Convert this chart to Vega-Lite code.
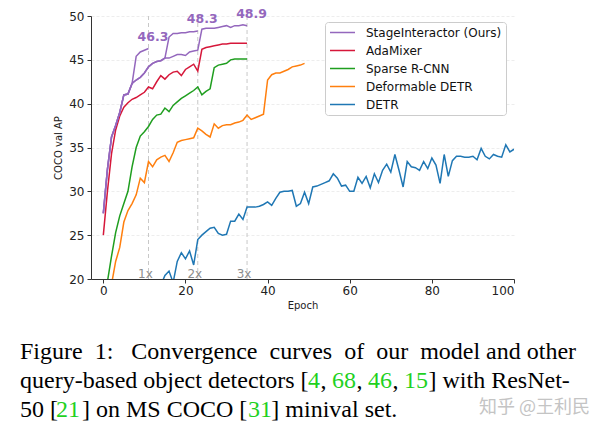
{
  "$schema": "https://vega.github.io/schema/vega-lite/v6.json",
  "background": "white",
  "padding": {"left": 20, "top": 8, "right": 2, "bottom": 2},
  "config": {
    "view": {"stroke": null},
    "font": "DejaVu Sans",
    "axis": {
      "labelFont": "DejaVu Sans", "labelFontSize": 12, "labelColor": "#222222",
      "titleFont": "DejaVu Sans", "titleFontSize": 10, "titleFontWeight": "normal", "titleColor": "#222222",
      "domainColor": "#333333", "tickColor": "#333333", "tickSize": 4, "domainWidth": 1, "tickWidth": 1
    }
  },
  "title": {
    "text": "知乎 @王利民",
    "orient": "bottom", "anchor": "end", "frame": "group",
    "font": "Noto Sans CJK SC", "fontSize": 18, "fontWeight": "normal", "color": "#c4c4c4",
    "offset": -23, "dx": 76
  },
  "datasets": {
    "curves": [
      {"m":"DETR","r":"detr","e":14,"v":19.3},{"m":"DETR","r":"detr","e":15,"v":20.4},{"m":"DETR","r":"detr","e":16,"v":20.9},{"m":"DETR","r":"detr","e":17,"v":19.6},{"m":"DETR","r":"detr","e":18,"v":22.0},{"m":"DETR","r":"detr","e":19,"v":23.0},{"m":"DETR","r":"detr","e":20,"v":22.3},{"m":"DETR","r":"detr","e":21,"v":23.2},{"m":"DETR","r":"detr","e":22,"v":21.6},{"m":"DETR","r":"detr","e":23,"v":24.5},{"m":"DETR","r":"detr","e":24,"v":25.0},{"m":"DETR","r":"detr","e":25,"v":25.4},{"m":"DETR","r":"detr","e":26,"v":25.8},{"m":"DETR","r":"detr","e":27,"v":25.9},{"m":"DETR","r":"detr","e":28,"v":25.2},{"m":"DETR","r":"detr","e":29,"v":25.0},{"m":"DETR","r":"detr","e":30,"v":25.1},{"m":"DETR","r":"detr","e":31,"v":26.6},{"m":"DETR","r":"detr","e":32,"v":26.6},{"m":"DETR","r":"detr","e":33,"v":27.4},{"m":"DETR","r":"detr","e":34,"v":26.8},{"m":"DETR","r":"detr","e":35,"v":28.2},{"m":"DETR","r":"detr","e":36,"v":28.2},{"m":"DETR","r":"detr","e":37,"v":28.2},{"m":"DETR","r":"detr","e":38,"v":28.3},{"m":"DETR","r":"detr","e":39,"v":28.5},{"m":"DETR","r":"detr","e":40,"v":28.8},{"m":"DETR","r":"detr","e":41,"v":28.4},{"m":"DETR","r":"detr","e":42,"v":29.2},{"m":"DETR","r":"detr","e":43,"v":29.9},{"m":"DETR","r":"detr","e":44,"v":30.0},{"m":"DETR","r":"detr","e":45,"v":30.0},{"m":"DETR","r":"detr","e":46,"v":30.1},{"m":"DETR","r":"detr","e":47,"v":28.3},{"m":"DETR","r":"detr","e":48,"v":28.6},{"m":"DETR","r":"detr","e":49,"v":29.9},{"m":"DETR","r":"detr","e":50,"v":28.6},{"m":"DETR","r":"detr","e":51,"v":30.5},{"m":"DETR","r":"detr","e":52,"v":30.6},{"m":"DETR","r":"detr","e":53,"v":30.8},{"m":"DETR","r":"detr","e":54,"v":31.0},{"m":"DETR","r":"detr","e":55,"v":31.2},{"m":"DETR","r":"detr","e":56,"v":32.0},{"m":"DETR","r":"detr","e":57,"v":31.5},{"m":"DETR","r":"detr","e":58,"v":30.6},{"m":"DETR","r":"detr","e":59,"v":30.7},{"m":"DETR","r":"detr","e":60,"v":30.0},{"m":"DETR","r":"detr","e":61,"v":30.0},{"m":"DETR","r":"detr","e":62,"v":31.6},{"m":"DETR","r":"detr","e":63,"v":30.9},{"m":"DETR","r":"detr","e":64,"v":31.7},{"m":"DETR","r":"detr","e":65,"v":30.4},{"m":"DETR","r":"detr","e":66,"v":32.0},{"m":"DETR","r":"detr","e":67,"v":31.0},{"m":"DETR","r":"detr","e":68,"v":32.4},{"m":"DETR","r":"detr","e":69,"v":33.1},{"m":"DETR","r":"detr","e":70,"v":32.2},{"m":"DETR","r":"detr","e":71,"v":34.2},{"m":"DETR","r":"detr","e":72,"v":32.4},{"m":"DETR","r":"detr","e":73,"v":30.5},{"m":"DETR","r":"detr","e":74,"v":33.4},{"m":"DETR","r":"detr","e":75,"v":32.8},{"m":"DETR","r":"detr","e":76,"v":32.7},{"m":"DETR","r":"detr","e":77,"v":32.4},{"m":"DETR","r":"detr","e":78,"v":33.4},{"m":"DETR","r":"detr","e":79,"v":32.6},{"m":"DETR","r":"detr","e":80,"v":33.8},{"m":"DETR","r":"detr","e":81,"v":33.0},{"m":"DETR","r":"detr","e":82,"v":30.9},{"m":"DETR","r":"detr","e":83,"v":34.2},{"m":"DETR","r":"detr","e":84,"v":31.7},{"m":"DETR","r":"detr","e":85,"v":33.5},{"m":"DETR","r":"detr","e":86,"v":34.0},{"m":"DETR","r":"detr","e":87,"v":34.0},{"m":"DETR","r":"detr","e":88,"v":33.9},{"m":"DETR","r":"detr","e":89,"v":33.9},{"m":"DETR","r":"detr","e":90,"v":34.0},{"m":"DETR","r":"detr","e":91,"v":33.6},{"m":"DETR","r":"detr","e":92,"v":34.9},{"m":"DETR","r":"detr","e":93,"v":34.0},{"m":"DETR","r":"detr","e":94,"v":33.7},{"m":"DETR","r":"detr","e":95,"v":34.2},{"m":"DETR","r":"detr","e":96,"v":34.0},{"m":"DETR","r":"detr","e":97,"v":33.9},{"m":"DETR","r":"detr","e":98,"v":35.3},{"m":"DETR","r":"detr","e":99,"v":34.5},{"m":"DETR","r":"detr","e":100,"v":34.8},
      {"m":"Deformable DETR","r":"ddetr","e":0,"v":12.0},{"m":"Deformable DETR","r":"ddetr","e":1,"v":16.0},{"m":"Deformable DETR","r":"ddetr","e":2,"v":19.4},{"m":"Deformable DETR","r":"ddetr","e":3,"v":22.0},{"m":"Deformable DETR","r":"ddetr","e":4,"v":23.6},{"m":"Deformable DETR","r":"ddetr","e":5,"v":26.5},{"m":"Deformable DETR","r":"ddetr","e":6,"v":27.8},{"m":"Deformable DETR","r":"ddetr","e":7,"v":28.6},{"m":"Deformable DETR","r":"ddetr","e":8,"v":29.6},{"m":"Deformable DETR","r":"ddetr","e":9,"v":31.5},{"m":"Deformable DETR","r":"ddetr","e":10,"v":31.0},{"m":"Deformable DETR","r":"ddetr","e":11,"v":33.4},{"m":"Deformable DETR","r":"ddetr","e":12,"v":32.8},{"m":"Deformable DETR","r":"ddetr","e":13,"v":33.6},{"m":"Deformable DETR","r":"ddetr","e":14,"v":33.9},{"m":"Deformable DETR","r":"ddetr","e":15,"v":34.1},{"m":"Deformable DETR","r":"ddetr","e":16,"v":33.4},{"m":"Deformable DETR","r":"ddetr","e":17,"v":34.4},{"m":"Deformable DETR","r":"ddetr","e":18,"v":35.6},{"m":"Deformable DETR","r":"ddetr","e":19,"v":35.8},{"m":"Deformable DETR","r":"ddetr","e":20,"v":35.9},{"m":"Deformable DETR","r":"ddetr","e":21,"v":36.0},{"m":"Deformable DETR","r":"ddetr","e":22,"v":36.1},{"m":"Deformable DETR","r":"ddetr","e":23,"v":37.2},{"m":"Deformable DETR","r":"ddetr","e":24,"v":36.9},{"m":"Deformable DETR","r":"ddetr","e":25,"v":36.5},{"m":"Deformable DETR","r":"ddetr","e":26,"v":36.2},{"m":"Deformable DETR","r":"ddetr","e":27,"v":37.7},{"m":"Deformable DETR","r":"ddetr","e":28,"v":37.2},{"m":"Deformable DETR","r":"ddetr","e":29,"v":37.5},{"m":"Deformable DETR","r":"ddetr","e":30,"v":37.6},{"m":"Deformable DETR","r":"ddetr","e":31,"v":37.6},{"m":"Deformable DETR","r":"ddetr","e":32,"v":37.8},{"m":"Deformable DETR","r":"ddetr","e":33,"v":37.9},{"m":"Deformable DETR","r":"ddetr","e":34,"v":38.1},{"m":"Deformable DETR","r":"ddetr","e":35,"v":38.7},{"m":"Deformable DETR","r":"ddetr","e":36,"v":38.2},{"m":"Deformable DETR","r":"ddetr","e":37,"v":38.4},{"m":"Deformable DETR","r":"ddetr","e":38,"v":38.6},{"m":"Deformable DETR","r":"ddetr","e":39,"v":38.8},{"m":"Deformable DETR","r":"ddetr","e":40,"v":42.7},{"m":"Deformable DETR","r":"ddetr","e":41,"v":43.3},{"m":"Deformable DETR","r":"ddetr","e":42,"v":43.5},{"m":"Deformable DETR","r":"ddetr","e":43,"v":43.5},{"m":"Deformable DETR","r":"ddetr","e":44,"v":43.7},{"m":"Deformable DETR","r":"ddetr","e":45,"v":43.9},{"m":"Deformable DETR","r":"ddetr","e":46,"v":44.2},{"m":"Deformable DETR","r":"ddetr","e":47,"v":44.3},{"m":"Deformable DETR","r":"ddetr","e":48,"v":44.4},{"m":"Deformable DETR","r":"ddetr","e":49,"v":44.6},
      {"m":"Sparse R-CNN","r":"srcnn","e":0,"v":14.0},{"m":"Sparse R-CNN","r":"srcnn","e":1,"v":19.7},{"m":"Sparse R-CNN","r":"srcnn","e":2,"v":22.6},{"m":"Sparse R-CNN","r":"srcnn","e":3,"v":25.3},{"m":"Sparse R-CNN","r":"srcnn","e":4,"v":27.2},{"m":"Sparse R-CNN","r":"srcnn","e":5,"v":28.6},{"m":"Sparse R-CNN","r":"srcnn","e":6,"v":30.0},{"m":"Sparse R-CNN","r":"srcnn","e":7,"v":32.8},{"m":"Sparse R-CNN","r":"srcnn","e":8,"v":35.0},{"m":"Sparse R-CNN","r":"srcnn","e":9,"v":36.3},{"m":"Sparse R-CNN","r":"srcnn","e":10,"v":36.8},{"m":"Sparse R-CNN","r":"srcnn","e":11,"v":37.4},{"m":"Sparse R-CNN","r":"srcnn","e":12,"v":38.2},{"m":"Sparse R-CNN","r":"srcnn","e":13,"v":38.7},{"m":"Sparse R-CNN","r":"srcnn","e":14,"v":38.8},{"m":"Sparse R-CNN","r":"srcnn","e":15,"v":39.5},{"m":"Sparse R-CNN","r":"srcnn","e":16,"v":39.1},{"m":"Sparse R-CNN","r":"srcnn","e":17,"v":39.8},{"m":"Sparse R-CNN","r":"srcnn","e":18,"v":40.2},{"m":"Sparse R-CNN","r":"srcnn","e":19,"v":40.6},{"m":"Sparse R-CNN","r":"srcnn","e":20,"v":40.9},{"m":"Sparse R-CNN","r":"srcnn","e":21,"v":41.2},{"m":"Sparse R-CNN","r":"srcnn","e":22,"v":41.5},{"m":"Sparse R-CNN","r":"srcnn","e":23,"v":41.9},{"m":"Sparse R-CNN","r":"srcnn","e":24,"v":41.0},{"m":"Sparse R-CNN","r":"srcnn","e":25,"v":41.4},{"m":"Sparse R-CNN","r":"srcnn","e":26,"v":41.7},{"m":"Sparse R-CNN","r":"srcnn","e":27,"v":44.1},{"m":"Sparse R-CNN","r":"srcnn","e":28,"v":44.4},{"m":"Sparse R-CNN","r":"srcnn","e":29,"v":44.5},{"m":"Sparse R-CNN","r":"srcnn","e":30,"v":44.6},{"m":"Sparse R-CNN","r":"srcnn","e":31,"v":45.0},{"m":"Sparse R-CNN","r":"srcnn","e":32,"v":45.1},{"m":"Sparse R-CNN","r":"srcnn","e":33,"v":45.1},{"m":"Sparse R-CNN","r":"srcnn","e":34,"v":45.1},{"m":"Sparse R-CNN","r":"srcnn","e":35,"v":45.1},
      {"m":"AdaMixer","r":"ada","e":0,"v":25.0},{"m":"AdaMixer","r":"ada","e":1,"v":30.0},{"m":"AdaMixer","r":"ada","e":2,"v":34.3},{"m":"AdaMixer","r":"ada","e":3,"v":37.0},{"m":"AdaMixer","r":"ada","e":4,"v":38.6},{"m":"AdaMixer","r":"ada","e":5,"v":39.6},{"m":"AdaMixer","r":"ada","e":6,"v":40.1},{"m":"AdaMixer","r":"ada","e":7,"v":40.5},{"m":"AdaMixer","r":"ada","e":8,"v":40.7},{"m":"AdaMixer","r":"ada","e":9,"v":41.0},{"m":"AdaMixer","r":"ada","e":10,"v":41.3},{"m":"AdaMixer","r":"ada","e":11,"v":41.9},{"m":"AdaMixer","r":"ada","e":12,"v":41.7},{"m":"AdaMixer","r":"ada","e":13,"v":42.5},{"m":"AdaMixer","r":"ada","e":14,"v":43.2},{"m":"AdaMixer","r":"ada","e":15,"v":42.8},{"m":"AdaMixer","r":"ada","e":16,"v":43.3},{"m":"AdaMixer","r":"ada","e":17,"v":43.6},{"m":"AdaMixer","r":"ada","e":18,"v":43.7},{"m":"AdaMixer","r":"ada","e":19,"v":43.2},{"m":"AdaMixer","r":"ada","e":20,"v":43.9},{"m":"AdaMixer","r":"ada","e":21,"v":44.2},{"m":"AdaMixer","r":"ada","e":22,"v":44.5},{"m":"AdaMixer","r":"ada","e":23,"v":43.7},{"m":"AdaMixer","r":"ada","e":24,"v":46.2},{"m":"AdaMixer","r":"ada","e":25,"v":46.4},{"m":"AdaMixer","r":"ada","e":26,"v":46.5},{"m":"AdaMixer","r":"ada","e":27,"v":46.6},{"m":"AdaMixer","r":"ada","e":28,"v":46.7},{"m":"AdaMixer","r":"ada","e":29,"v":46.8},{"m":"AdaMixer","r":"ada","e":30,"v":46.8},{"m":"AdaMixer","r":"ada","e":31,"v":46.9},{"m":"AdaMixer","r":"ada","e":32,"v":46.9},{"m":"AdaMixer","r":"ada","e":33,"v":46.9},{"m":"AdaMixer","r":"ada","e":34,"v":46.9},{"m":"AdaMixer","r":"ada","e":35,"v":46.9},
      {"m":"StageInteractor (Ours)","r":"si3","e":0,"v":27.5},{"m":"StageInteractor (Ours)","r":"si3","e":1,"v":32.5},{"m":"StageInteractor (Ours)","r":"si3","e":2,"v":36.2},{"m":"StageInteractor (Ours)","r":"si3","e":3,"v":37.5},{"m":"StageInteractor (Ours)","r":"si3","e":4,"v":39.0},{"m":"StageInteractor (Ours)","r":"si3","e":5,"v":41.0},{"m":"StageInteractor (Ours)","r":"si3","e":6,"v":41.1},{"m":"StageInteractor (Ours)","r":"si3","e":7,"v":42.3},{"m":"StageInteractor (Ours)","r":"si3","e":8,"v":42.7},{"m":"StageInteractor (Ours)","r":"si3","e":9,"v":43.0},{"m":"StageInteractor (Ours)","r":"si3","e":10,"v":43.5},{"m":"StageInteractor (Ours)","r":"si3","e":11,"v":44.2},{"m":"StageInteractor (Ours)","r":"si3","e":12,"v":44.6},{"m":"StageInteractor (Ours)","r":"si3","e":13,"v":44.8},{"m":"StageInteractor (Ours)","r":"si3","e":14,"v":44.9},{"m":"StageInteractor (Ours)","r":"si3","e":15,"v":45.2},{"m":"StageInteractor (Ours)","r":"si3","e":16,"v":45.2},{"m":"StageInteractor (Ours)","r":"si3","e":17,"v":45.4},{"m":"StageInteractor (Ours)","r":"si3","e":18,"v":45.6},{"m":"StageInteractor (Ours)","r":"si3","e":19,"v":45.6},{"m":"StageInteractor (Ours)","r":"si3","e":20,"v":45.5},{"m":"StageInteractor (Ours)","r":"si3","e":21,"v":45.9},{"m":"StageInteractor (Ours)","r":"si3","e":22,"v":46.0},{"m":"StageInteractor (Ours)","r":"si3","e":23,"v":46.1},{"m":"StageInteractor (Ours)","r":"si3","e":24,"v":48.5},{"m":"StageInteractor (Ours)","r":"si3","e":25,"v":48.6},{"m":"StageInteractor (Ours)","r":"si3","e":26,"v":48.6},{"m":"StageInteractor (Ours)","r":"si3","e":27,"v":48.6},{"m":"StageInteractor (Ours)","r":"si3","e":28,"v":48.7},{"m":"StageInteractor (Ours)","r":"si3","e":29,"v":48.8},{"m":"StageInteractor (Ours)","r":"si3","e":30,"v":48.9},{"m":"StageInteractor (Ours)","r":"si3","e":31,"v":48.7},{"m":"StageInteractor (Ours)","r":"si3","e":32,"v":48.9},{"m":"StageInteractor (Ours)","r":"si3","e":33,"v":48.9},{"m":"StageInteractor (Ours)","r":"si3","e":34,"v":49.0},{"m":"StageInteractor (Ours)","r":"si3","e":35,"v":48.9},
      {"m":"StageInteractor (Ours)","r":"si2","e":0,"v":27.5},{"m":"StageInteractor (Ours)","r":"si2","e":1,"v":32.5},{"m":"StageInteractor (Ours)","r":"si2","e":2,"v":36.2},{"m":"StageInteractor (Ours)","r":"si2","e":3,"v":37.5},{"m":"StageInteractor (Ours)","r":"si2","e":4,"v":39.0},{"m":"StageInteractor (Ours)","r":"si2","e":5,"v":41.0},{"m":"StageInteractor (Ours)","r":"si2","e":6,"v":41.1},{"m":"StageInteractor (Ours)","r":"si2","e":7,"v":42.3},{"m":"StageInteractor (Ours)","r":"si2","e":8,"v":42.7},{"m":"StageInteractor (Ours)","r":"si2","e":9,"v":43.0},{"m":"StageInteractor (Ours)","r":"si2","e":10,"v":43.5},{"m":"StageInteractor (Ours)","r":"si2","e":11,"v":44.2},{"m":"StageInteractor (Ours)","r":"si2","e":12,"v":44.6},{"m":"StageInteractor (Ours)","r":"si2","e":13,"v":44.8},{"m":"StageInteractor (Ours)","r":"si2","e":14,"v":44.9},{"m":"StageInteractor (Ours)","r":"si2","e":15,"v":45.2},{"m":"StageInteractor (Ours)","r":"si2","e":16,"v":47.6},{"m":"StageInteractor (Ours)","r":"si2","e":17,"v":48.0},{"m":"StageInteractor (Ours)","r":"si2","e":18,"v":48.0},{"m":"StageInteractor (Ours)","r":"si2","e":19,"v":48.1},{"m":"StageInteractor (Ours)","r":"si2","e":20,"v":48.1},{"m":"StageInteractor (Ours)","r":"si2","e":21,"v":48.2},{"m":"StageInteractor (Ours)","r":"si2","e":22,"v":48.2},{"m":"StageInteractor (Ours)","r":"si2","e":23,"v":48.3},
      {"m":"StageInteractor (Ours)","r":"si1","e":0,"v":27.5},{"m":"StageInteractor (Ours)","r":"si1","e":1,"v":32.5},{"m":"StageInteractor (Ours)","r":"si1","e":2,"v":36.2},{"m":"StageInteractor (Ours)","r":"si1","e":3,"v":37.5},{"m":"StageInteractor (Ours)","r":"si1","e":4,"v":39.0},{"m":"StageInteractor (Ours)","r":"si1","e":5,"v":41.0},{"m":"StageInteractor (Ours)","r":"si1","e":6,"v":41.1},{"m":"StageInteractor (Ours)","r":"si1","e":7,"v":42.3},{"m":"StageInteractor (Ours)","r":"si1","e":8,"v":45.4},{"m":"StageInteractor (Ours)","r":"si1","e":9,"v":45.9},{"m":"StageInteractor (Ours)","r":"si1","e":10,"v":46.1},{"m":"StageInteractor (Ours)","r":"si1","e":11,"v":46.3}
    ],
    "marks": [
      {"e": 11, "tag": "1x", "v": 46.3, "best": "46.3"},
      {"e": 23, "tag": "2x", "v": 48.3, "best": "48.3"},
      {"e": 35, "tag": "3x", "v": 48.9, "best": "48.9"}
    ]
  },
  "vconcat": [
    {
      "width": 423,
      "height": 263,
      "title": {
        "text": [
          "Figure\u00a0\u00a01:\u00a0\u00a0\u00a0Convergence\u00a0\u00a0curves\u00a0\u00a0of\u00a0\u00a0our\u00a0\u00a0model\u00a0and\u00a0other",
          "query-based object detectors [\u00a0\u00a0,\u00a0\u00a0\u00a0\u00a0\u00a0,\u00a0\u00a0\u00a0\u00a0\u00a0,\u00a0\u00a0\u00a0\u00a0\u00a0] with ResNet-",
          "50 [\u00a0\u00a0\u00a0\u00a0] on MS COCO [\u00a0\u00a0\u00a0\u00a0] minival set."
        ],
        "subtitle": [
          "\u200b\u00a0\u00a0\u00a0\u00a0\u00a0\u00a0\u00a0\u00a0\u00a0\u00a0\u00a0\u00a0\u00a0\u00a0\u00a0\u00a0\u00a0\u00a0\u00a0\u00a0\u00a0\u00a0\u00a0\u00a0\u00a0\u00a0\u00a0\u00a0\u00a0\u00a0\u00a0\u00a0\u00a0\u00a0\u00a0\u00a0\u00a0\u00a0\u00a0\u00a0\u00a0\u00a0\u00a0\u00a0\u00a0\u00a0\u00a0\u00a04\u00a0\u00a068\u00a0\u00a046\u00a0\u00a015",
          "\u200b\u00a0\u00a0\u00a0\u00a0\u00a0\u00a021\u00a0\u00a0\u00a0\u00a0\u00a0\u00a0\u00a0\u00a0\u00a0\u00a0\u00a0\u00a0\u00a0\u00a0\u00a0\u00a0\u00a0\u00a0\u00a0\u00a0\u00a0\u00a0\u00a0\u00a0\u00a0\u00a0\u00a0\u00a031"
        ],
        "orient": "bottom", "anchor": "start", "frame": "group",
        "dx": -71, "offset": 30,
        "font": "Liberation Serif", "fontSize": 24, "fontWeight": "normal", "color": "#000000",
        "lineHeight": 29,
        "subtitleFont": "Liberation Serif", "subtitleFontSize": 24, "subtitleColor": "#1fd11f",
        "subtitleLineHeight": 29, "subtitlePadding": -53
      },
      "layer": [
        {
          "data": {"name": "marks"},
          "mark": {"type": "rule", "color": "#c8c8c8", "strokeDash": [4, 3], "strokeWidth": 1},
          "encoding": {
            "x": {"field": "e", "type": "quantitative"}
          }
        },
        {
          "data": {"name": "curves"},
          "mark": {"type": "line", "strokeWidth": 1.5, "clip": true},
          "encoding": {
            "x": {
              "field": "e", "type": "quantitative",
              "scale": {"domain": [-3, 100], "nice": false, "zero": false},
              "axis": {"values": [0, 20, 40, 60, 80, 100], "title": "Epoch", "grid": false, "labelPadding": 2, "titlePadding": 4}
            },
            "y": {
              "field": "v", "type": "quantitative",
              "scale": {"domain": [20, 50], "nice": false, "zero": false},
              "axis": {"values": [20, 25, 30, 35, 40, 45, 50], "title": "COCO val AP", "grid": true, "gridColor": "#e8e8e8", "gridDash": [3, 2], "gridWidth": 0.8, "labelPadding": 3, "titlePadding": 5}
            },
            "color": {
              "field": "m", "type": "nominal",
              "scale": {
                "domain": ["StageInteractor (Ours)", "AdaMixer", "Sparse R-CNN", "Deformable DETR", "DETR"],
                "range": ["#9467bd", "#d6173a", "#1f9e1f", "#ff7f0e", "#1f77b4"]
              },
              "legend": {
                "orient": "none", "legendX": 234, "legendY": 6, "title": null,
                "symbolType": "stroke", "symbolSize": 625, "symbolStrokeWidth": 1.6,
                "labelFont": "DejaVu Sans", "labelFontSize": 12, "labelColor": "#111111", "labelOffset": 10,
                "clipHeight": 13, "rowPadding": 5, "padding": 4,
                "strokeColor": "#cccccc", "fillColor": "#ffffff", "cornerRadius": 3
              }
            },
            "detail": {"field": "r", "type": "nominal"},
            "order": {"field": "e", "type": "quantitative"}
          }
        },
        {
          "data": {"name": "marks"},
          "mark": {"type": "text", "color": "#8c8c8c", "fontSize": 12, "font": "DejaVu Sans", "baseline": "alphabetic", "align": "center", "dx": -3, "dy": -1},
          "encoding": {
            "x": {"field": "e", "type": "quantitative"},
            "y": {"datum": 20},
            "text": {"field": "tag"}
          }
        },
        {
          "data": {"name": "marks"},
          "mark": {"type": "text", "color": "#9467bd", "fontSize": 12.5, "fontWeight": "bold", "font": "DejaVu Sans", "baseline": "middle", "align": "center", "dx": 4.5, "dy": -11.5},
          "encoding": {
            "x": {"field": "e", "type": "quantitative"},
            "y": {"field": "v", "type": "quantitative"},
            "text": {"field": "best"}
          }
        }
      ]
    }
  ]
}
